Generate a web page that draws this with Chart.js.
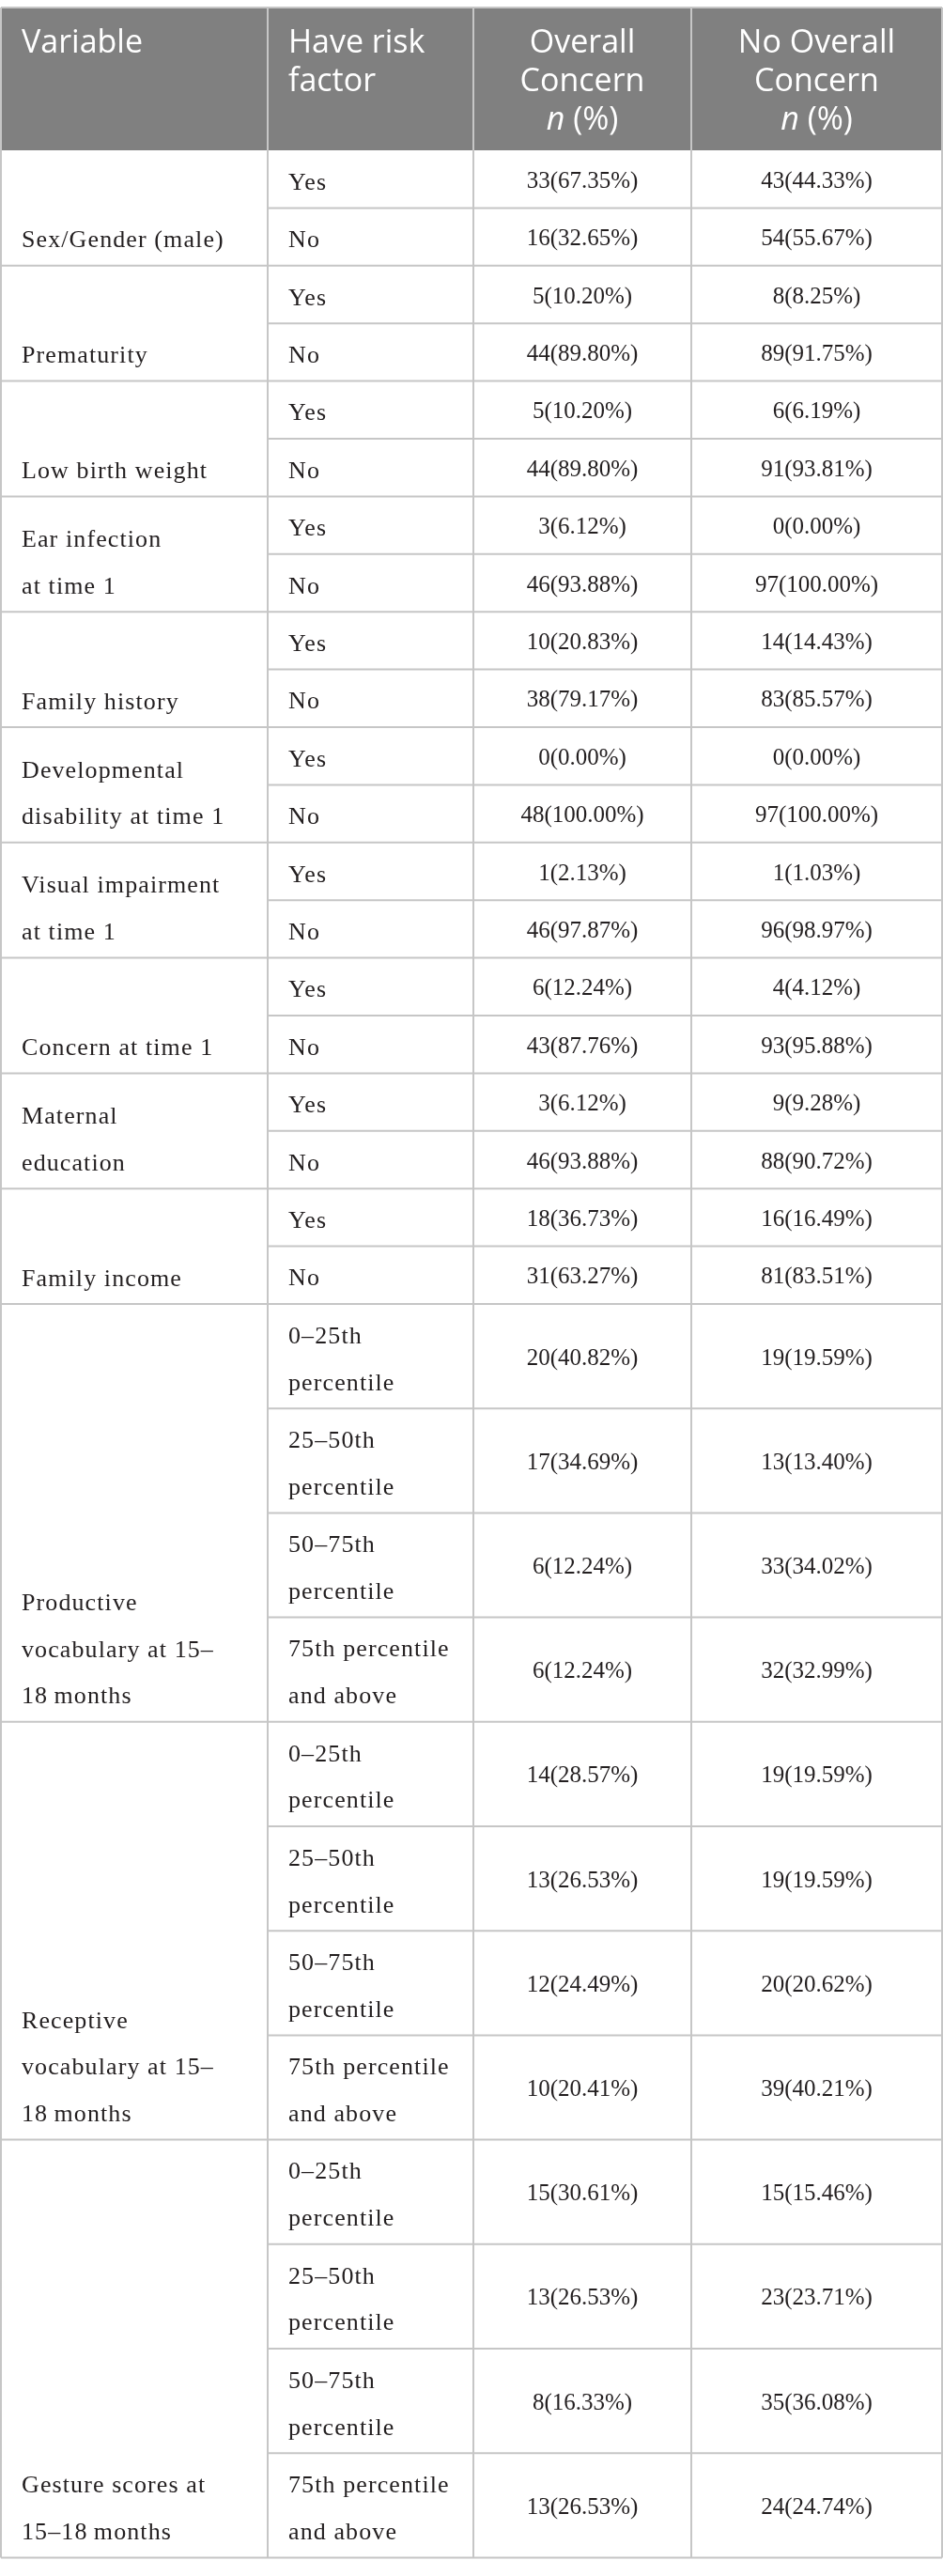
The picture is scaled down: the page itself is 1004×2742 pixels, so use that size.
<!DOCTYPE html>
<html>
<head>
<meta charset="utf-8">
<script src="https://cdn.jsdelivr.net/npm/chart.js@4"></script>
<style>
  html, body { margin: 0; padding: 0; background: #fff; }
  #wrap { width: 1004px; height: 2742px; position: relative; }
</style>
</head>
<body>
<div id="wrap"><canvas id="tableChart"></canvas></div>
<script>
// column headings
const headVariable = ['Variable'];
const headRisk = ['Have risk', 'factor'];
const headConcern = ['Overall', 'Concern'];
const headNoConcern = ['No Overall', 'Concern'];

// row groups (variable label lines)
const variableLabels = [
    ['Sex/Gender (male)'],
    ['Prematurity'],
    ['Low birth weight'],
    ['Ear infection', 'at time 1'],
    ['Family history'],
    ['Developmental', 'disability at time 1'],
    ['Visual impairment', 'at time 1'],
    ['Concern at time 1'],
    ['Maternal', 'education'],
    ['Family income'],
    ['Productive', 'vocabulary at 15–', '18\u2009months'],
    ['Receptive', 'vocabulary at 15–', '18\u2009months'],
    ['Gesture scores at', '15–18\u2009months']
];

const yesNoLevels = [['Yes'], ['No']];
const percentileLevels = [
    ['0–25th', 'percentile'],
    ['25–50th', 'percentile'],
    ['50–75th', 'percentile'],
    ['75th percentile', 'and above']
];
const groupLevels = [
    yesNoLevels, yesNoLevels, yesNoLevels, yesNoLevels, yesNoLevels,
    yesNoLevels, yesNoLevels, yesNoLevels, yesNoLevels, yesNoLevels,
    percentileLevels, percentileLevels, percentileLevels
];

// values, one per row, top to bottom
const concernN = [33, 16, 5, 44, 5, 44, 3, 46, 10, 38, 0, 48, 1, 46, 6, 43, 3, 46, 18, 31,
    20, 17, 6, 6, 14, 13, 12, 10, 15, 13, 8, 13];
const concernPct = [67.35, 32.65, 10.20, 89.80, 10.20, 89.80, 6.12, 93.88, 20.83, 79.17,
    0.00, 100.00, 2.13, 97.87, 12.24, 87.76, 6.12, 93.88, 36.73, 63.27,
    40.82, 34.69, 12.24, 12.24, 28.57, 26.53, 24.49, 20.41, 30.61, 26.53, 16.33, 26.53];
const noConcernN = [43, 54, 8, 89, 6, 91, 0, 97, 14, 83, 0, 97, 1, 96, 4, 93, 9, 88, 16, 81,
    19, 13, 33, 32, 19, 19, 20, 39, 15, 23, 35, 24];
const noConcernPct = [44.33, 55.67, 8.25, 91.75, 6.19, 93.81, 0.00, 100.00, 14.43, 85.57,
    0.00, 100.00, 1.03, 98.97, 4.12, 95.88, 9.28, 90.72, 16.49, 83.51,
    19.59, 13.40, 34.02, 32.99, 19.59, 19.59, 20.62, 40.21, 15.46, 23.71, 36.08, 24.74];

// layout (in scale units)
const colEdges = [1, 285, 504, 736, 1003];
const tableTop = 8;
const headBottom = 160;
const rowBase = 11.6;
const lineStep = 49.8;
const pad = 22;

const serif = '"Liberation Serif", "Times New Roman", serif';
const sans = '"Open Sans", "Noto Sans", sans-serif';
const wordFont = '26px ' + serif;
const numFont = '25px ' + serif;

function cellText(n, p) {
    return n + '(' + p.toFixed(2) + '%)';
}

// word cells are set a little looser than the figures
function words(ctx, on) {
    ctx.font = on ? wordFont : numFont;
    if ('letterSpacing' in ctx) ctx.letterSpacing = on ? '1.1px' : '0px';
}

const tablePlugin = {
    id: 'tablePlugin',
    afterDraw(chart) {
        const ctx = chart.ctx;
        const x = chart.scales.x, y = chart.scales.y;
        const px = v => x.getPixelForValue(v);
        const py = v => y.getPixelForValue(v);
        const left = px(colEdges[0]), right = px(colEdges[4]);

        // header background
        ctx.save();
        ctx.fillStyle = '#808080';
        ctx.fillRect(left, py(tableTop), right - left, py(headBottom) - py(tableTop));

        // header text
        ctx.fillStyle = '#ffffff';
        ctx.font = '34px ' + sans;
        ctx.textBaseline = 'alphabetic';
        ctx.textAlign = 'left';
        headVariable.forEach((t, i) => ctx.fillText(t, px(colEdges[0] + pad), py(tableTop + 48 + i * 41)));
        headRisk.forEach((t, i) => ctx.fillText(t, px(colEdges[1] + pad), py(tableTop + 48 + i * 41)));
        ctx.textAlign = 'center';
        [headConcern, headNoConcern].forEach((h, c) => {
            const cx = px((colEdges[2 + c] + colEdges[3 + c]) / 2);
            h.forEach((t, i) => ctx.fillText(t, cx, py(tableTop + 48 + i * 41)));
            // "n (%)" with italic n
            ctx.textAlign = 'left';
            ctx.font = 'italic 34px ' + sans;
            const wn = ctx.measureText('n').width;
            ctx.font = '34px ' + sans;
            const wr = ctx.measureText(' (%)').width;
            const sx = cx - (wn + wr) / 2;
            const by = py(tableTop + 48 + 2 * 41);
            ctx.font = 'italic 34px ' + sans;
            ctx.fillText('n', sx, by);
            ctx.font = '34px ' + sans;
            ctx.fillText(' (%)', sx + wn, by);
            ctx.textAlign = 'center';
        });

        // body
        ctx.strokeStyle = '#c6c6c6';
        ctx.lineWidth = 2;
        const hline = (x0, x1, yy) => {
            ctx.beginPath();
            ctx.moveTo(x0, py(yy));
            ctx.lineTo(x1, py(yy));
            ctx.stroke();
        };

        let top = headBottom;
        let r = 0;
        ctx.fillStyle = '#231f20';
        groupLevels.forEach((levels, g) => {
            levels.forEach((lv, k) => {
                const h = rowBase + lineStep * lv.length;
                // level text
                words(ctx, true);
                ctx.textAlign = 'left';
                lv.forEach((t, i) => {
                    const b = top + (h - lv.length * lineStep) / 2 + 36 + i * lineStep;
                    ctx.fillText(t, px(colEdges[1] + pad), py(b));
                });
                // values
                words(ctx, false);
                ctx.textAlign = 'center';
                const b = top + h / 2 + 9;
                ctx.fillText(cellText(concernN[r], concernPct[r]), px((colEdges[2] + colEdges[3]) / 2), py(b));
                ctx.fillText(cellText(noConcernN[r], noConcernPct[r]), px((colEdges[3] + colEdges[4]) / 2), py(b));
                top += h;
                r++;
                if (k < levels.length - 1) hline(px(colEdges[1]), right, top);
            });
            // variable label, bottom aligned
            const lab = variableLabels[g];
            words(ctx, true);
            ctx.textAlign = 'left';
            lab.forEach((t, i) => {
                const b = top - 19.5 - (lab.length - 1 - i) * lineStep;
                ctx.fillText(t, px(colEdges[0] + pad), py(b));
            });
            hline(left, right, top);
        });

        // top line and vertical lines
        hline(left, right, tableTop);
        colEdges.forEach(c => {
            ctx.beginPath();
            ctx.moveTo(px(c), py(tableTop));
            ctx.lineTo(px(c), py(top));
            ctx.stroke();
        });
        ctx.restore();
    }
};

new Chart(document.getElementById('tableChart'), {
    type: 'scatter',
    data: { datasets: [{ data: [], pointRadius: 0 }] },
    options: {
        responsive: true,
        maintainAspectRatio: false,
        animation: false,
        events: [],
        layout: { padding: 0 },
        plugins: { legend: { display: false }, tooltip: { enabled: false } },
        scales: {
            x: { type: 'linear', min: 0, max: 1004, display: false },
            y: { type: 'linear', min: 0, max: 2742, reverse: true, display: false }
        }
    },
    plugins: [tablePlugin]
});
</script>
</body>
</html>
